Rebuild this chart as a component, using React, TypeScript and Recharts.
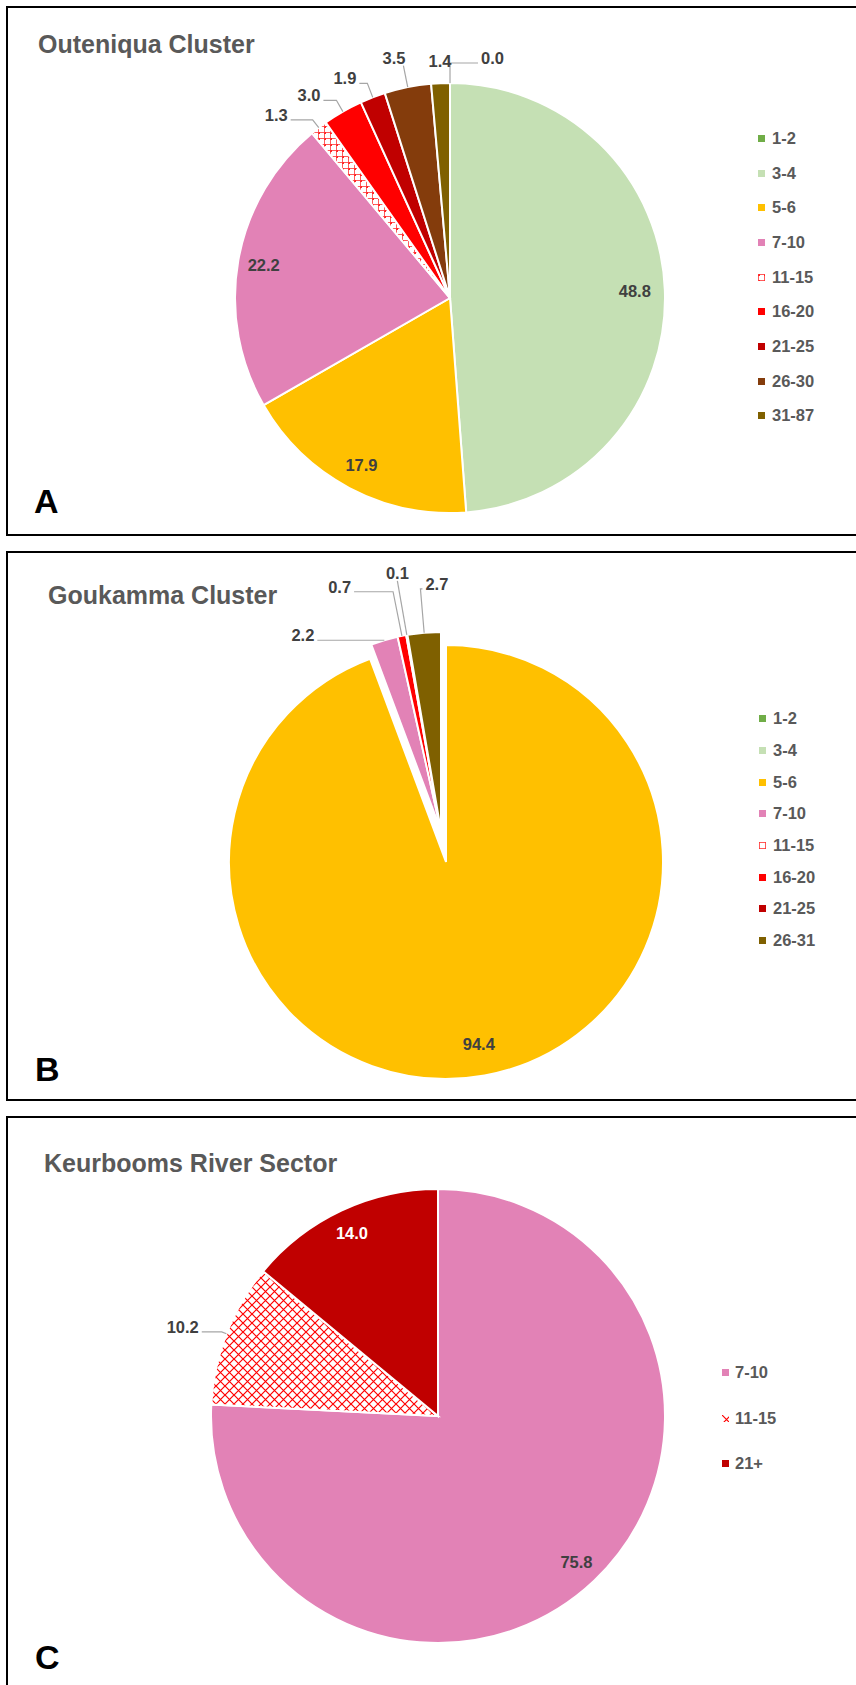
import { PieChart, Pie, Cell, Legend } from "recharts";

const FONT = "'Liberation Sans', Arial, sans-serif";
const LABEL_GREY = "#404040";
const TEXT_GREY = "#595959";
const LEADER = "#A6A6A6";
const RAD = Math.PI / 180;

// A - Outeniqua Cluster
const categoriesA = ["1-2", "3-4", "5-6", "7-10", "11-15", "16-20", "21-25", "26-30", "31-87"];
const valuesA = [0.0, 48.8, 17.9, 22.2, 1.3, 3.0, 1.9, 3.5, 1.4];
const colorsA = ["#70AD47", "#C5E0B4", "#FFC000", "#E282B6", "url(#gridA)", "#FF0000", "#C00000", "#843C0C", "#7F6000"];

// B - Goukamma Cluster
const categoriesB = ["1-2", "3-4", "5-6", "7-10", "11-15", "16-20", "21-25", "26-31"];
const valuesB = [0, 0, 94.4, 2.2, 0, 0.7, 0.1, 2.7];
const colorsB = ["#70AD47", "#C5E0B4", "#FFC000", "#E282B6", "url(#gridB)", "#FF0000", "#C00000", "#7F6000"];
const bigSliceB = "5-6";

// C - Keurbooms River Sector
const categoriesC = ["7-10", "11-15", "21+"];
const valuesC = [75.8, 10.2, 14.0];
const colorsC = ["#E282B6", "url(#trellisC)", "#C00000"];

type Spec = {
  mode: "in" | "out" | "off";
  frac?: number;
  ext?: number;
  run?: number;
  anchor?: "start" | "middle" | "end";
  line?: boolean;
  color?: string;
};

const OFF: Spec = { mode: "off" };

const layoutA: Spec[] = [
  { mode: "out", ext: 20, run: 28 },
  { mode: "in", frac: 0.86 },
  { mode: "in", frac: 0.88 },
  { mode: "in", frac: 0.88 },
  { mode: "out", ext: 10, run: -22 },
  { mode: "out", ext: 13, run: -13 },
  { mode: "out", ext: 15, run: -8 },
  { mode: "out", ext: 22, run: 0, anchor: "end" },
  { mode: "out", ext: 14, run: 0, line: false },
];

const layoutB: Spec[] = [
  OFF,
  OFF,
  { mode: "in", frac: 0.85 },
  { mode: "out", ext: 0, run: -67 },
  OFF,
  { mode: "out", ext: 45, run: -39 },
  { mode: "out", ext: 55, run: 0 },
  { mode: "out", ext: 44, run: 2 },
];

const layoutC: Spec[] = [
  { mode: "in", frac: 0.885 },
  { mode: "out", ext: 5, run: -20 },
  { mode: "in", frac: 0.89, color: "#FFFFFF" },
];

const toRows = (names: string[], values: number[]) => names.map((name, i) => ({ name, value: values[i] }));
const dataA = toRows(categoriesA, valuesA);
const dataB = toRows(categoriesB, valuesB);
const dataC = toRows(categoriesC, valuesC);

function makeLabel(specs: Spec[]) {
  return (props: any) => {
    const { cx, cy, midAngle, outerRadius, value, index } = props;
    const s = specs[index];
    if (!s || s.mode === "off" || value == null) return null;
    const cos = Math.cos(-midAngle * RAD);
    const sin = Math.sin(-midAngle * RAD);
    const txt = Number(value).toFixed(1);
    const textStyle = { fontFamily: FONT, fontSize: 16.5, fontWeight: 700 as const };
    if (s.mode === "in") {
      const r = outerRadius * (s.frac ?? 0.86);
      return (
        <text x={cx + r * cos} y={cy + r * sin} textAnchor="middle" dominantBaseline="central" fill={s.color ?? LABEL_GREY} style={textStyle}>
          {txt}
        </text>
      );
    }
    const ex = cx + outerRadius * cos;
    const ey = cy + outerRadius * sin;
    const er = outerRadius + (s.ext ?? 12);
    const bx = cx + er * cos;
    const by = cy + er * sin;
    const run = s.run ?? 0;
    const tx = bx + run;
    let textX = bx;
    let anchor: "start" | "middle" | "end" = s.anchor ?? "middle";
    let baseY = by + 1;
    if (run < 0) {
      textX = tx - 3;
      anchor = "end";
    } else if (run > 0) {
      textX = tx + 3;
      anchor = "start";
    } else {
      textX = bx + (anchor === "end" ? 2 : 0);
      baseY = by - 2;
    }
    return (
      <g>
        {s.line !== false && (
          <polyline points={`${ex},${ey} ${bx},${by} ${tx},${by}`} fill="none" stroke={LEADER} strokeWidth={1.2} />
        )}
        <text x={textX} y={baseY} textAnchor={anchor} fill={LABEL_GREY} style={textStyle}>
          {txt}
        </text>
      </g>
    );
  };
}

function LegendList({ names, colors, itemH, gap }: { names: string[]; colors: string[]; itemH: number; gap: number }) {
  return (
    <div style={{ fontFamily: FONT, fontSize: 16.5, fontWeight: 700, color: TEXT_GREY }}>
      {names.map((n, i) => (
        <div key={n} style={{ display: "flex", alignItems: "center", height: itemH }}>
          <svg width={7} height={7} style={{ marginRight: gap, flex: "none" }}>
            <rect width={7} height={7} fill={colors[i]} />
          </svg>
          <span>{n}</span>
        </div>
      ))}
    </div>
  );
}

function Patterns() {
  return (
    <defs>
      <pattern id="gridA" width={6} height={6} patternUnits="userSpaceOnUse">
        <rect width={6} height={6} fill="#fff" />
        <path d="M0 0.5 H6 M0.5 0 V6" stroke="#FF3030" strokeWidth={0.8} />
        <path d="M0 1.5 H2 M1.5 -1 V2" stroke="#FF0000" strokeWidth={0.6} />
      </pattern>
      <pattern id="gridB" width={6} height={6} patternUnits="userSpaceOnUse">
        <rect width={6} height={6} fill="#fff" />
        <path d="M0 0.5 H6 M0.5 0 V6" stroke="#FF3030" strokeWidth={0.8} />
      </pattern>
      <pattern id="trellisC" width={9} height={9} patternUnits="userSpaceOnUse">
        <rect width={9} height={9} fill="#fff" />
        <path d="M0 0 L9 9 M9 0 L0 9" stroke="#FF0000" strokeWidth={1.2} />
      </pattern>
    </defs>
  );
}

const panelStyle = (top: number, height: number): React.CSSProperties => ({
  position: "absolute",
  left: 6,
  top,
  width: 880,
  height,
  boxSizing: "border-box",
  border: "2px solid #000",
  pointerEvents: "none",
});

const titleStyle = (left: number, top: number): React.CSSProperties => ({
  position: "absolute",
  left,
  top,
  fontFamily: FONT,
  fontSize: 25,
  lineHeight: "25px",
  fontWeight: 700,
  color: TEXT_GREY,
  whiteSpace: "nowrap",
});

const letterStyle = (left: number, top: number): React.CSSProperties => ({
  position: "absolute",
  left,
  top,
  fontFamily: FONT,
  fontSize: 34,
  lineHeight: "34px",
  fontWeight: 700,
  color: "#000",
});

const chartBox = (top: number): React.CSSProperties => ({ position: "absolute", left: 0, top });

export default function App() {
  return (
    <div style={{ position: "absolute", left: 0, top: 0, width: 856, height: 1685, overflow: "hidden", background: "#fff" }}>
      {/* A */}
      <div style={chartBox(6)}>
        <PieChart width={856} height={530} margin={{ top: 0, right: 0, bottom: 0, left: 0 }}>
          <Patterns />
          <Pie
            data={dataA}
            dataKey="value"
            nameKey="name"
            cx={450}
            cy={292}
            outerRadius={215}
            startAngle={90}
            endAngle={-270}
            stroke="#fff"
            strokeWidth={2}
            label={makeLabel(layoutA)}
            labelLine={false}
            isAnimationActive={false}
          >
            {dataA.map((d, i) => (
              <Cell key={d.name} fill={colorsA[i]} />
            ))}
          </Pie>
          <Legend
            layout="vertical"
            align="right"
            verticalAlign="middle"
            wrapperStyle={{ left: 758, top: 115, width: 98 }}
            content={() => <LegendList names={categoriesA} colors={colorsA} itemH={34.7} gap={7} />}
          />
        </PieChart>
      </div>

      {/* B */}
      <div style={chartBox(551)}>
        <PieChart width={856} height={550} margin={{ top: 0, right: 0, bottom: 0, left: 0 }}>
          <Patterns />
          <Pie
            data={dataB}
            dataKey="value"
            nameKey="name"
            cx={446}
            cy={311}
            outerRadius={217}
            startAngle={90}
            endAngle={-270}
            strokeWidth={2}
            label={makeLabel(layoutB.map((s, i) => (categoriesB[i] === bigSliceB ? s : OFF)))}
            labelLine={false}
            isAnimationActive={false}
          >
            {dataB.map((d, i) => (
              <Cell key={d.name} fill={d.name === bigSliceB ? colorsB[i] : "none"} stroke={d.name === bigSliceB ? "#fff" : "none"} />
            ))}
          </Pie>
          <Pie
            data={dataB}
            dataKey="value"
            nameKey="name"
            cx={441}
            cy={280}
            outerRadius={199}
            startAngle={90}
            endAngle={-270}
            strokeWidth={2}
            label={makeLabel(layoutB.map((s, i) => (categoriesB[i] === bigSliceB ? OFF : s)))}
            labelLine={false}
            isAnimationActive={false}
          >
            {dataB.map((d, i) => (
              <Cell key={d.name} fill={d.name === bigSliceB ? "none" : colorsB[i]} stroke={d.name === bigSliceB ? "none" : "#fff"} />
            ))}
          </Pie>
          <Legend
            layout="vertical"
            align="right"
            verticalAlign="middle"
            wrapperStyle={{ left: 759, top: 152, width: 97 }}
            content={() => <LegendList names={categoriesB} colors={colorsB} itemH={31.7} gap={7} />}
          />
        </PieChart>
      </div>

      {/* C */}
      <div style={chartBox(1116)}>
        <PieChart width={856} height={600} margin={{ top: 0, right: 0, bottom: 0, left: 0 }}>
          <Patterns />
          <Pie
            data={dataC}
            dataKey="value"
            nameKey="name"
            cx={438}
            cy={300}
            outerRadius={227}
            startAngle={90}
            endAngle={-270}
            stroke="#fff"
            strokeWidth={2}
            label={makeLabel(layoutC)}
            labelLine={false}
            isAnimationActive={false}
          >
            {dataC.map((d, i) => (
              <Cell key={d.name} fill={colorsC[i]} />
            ))}
          </Pie>
          <Legend
            layout="vertical"
            align="right"
            verticalAlign="middle"
            wrapperStyle={{ left: 722, top: 234, width: 120 }}
            content={() => <LegendList names={categoriesC} colors={colorsC} itemH={45.5} gap={6} />}
          />
        </PieChart>
      </div>

      <div style={panelStyle(6, 530)} />
      <div style={panelStyle(551, 550)} />
      <div style={panelStyle(1116, 600)} />

      <div style={titleStyle(38, 32)}>Outeniqua Cluster</div>
      <div style={titleStyle(48, 583)}>Goukamma Cluster</div>
      <div style={titleStyle(44, 1151)}>Keurbooms River Sector</div>

      <div style={letterStyle(34, 484)}>A</div>
      <div style={letterStyle(35, 1052)}>B</div>
      <div style={letterStyle(35, 1640)}>C</div>
    </div>
  );
}
